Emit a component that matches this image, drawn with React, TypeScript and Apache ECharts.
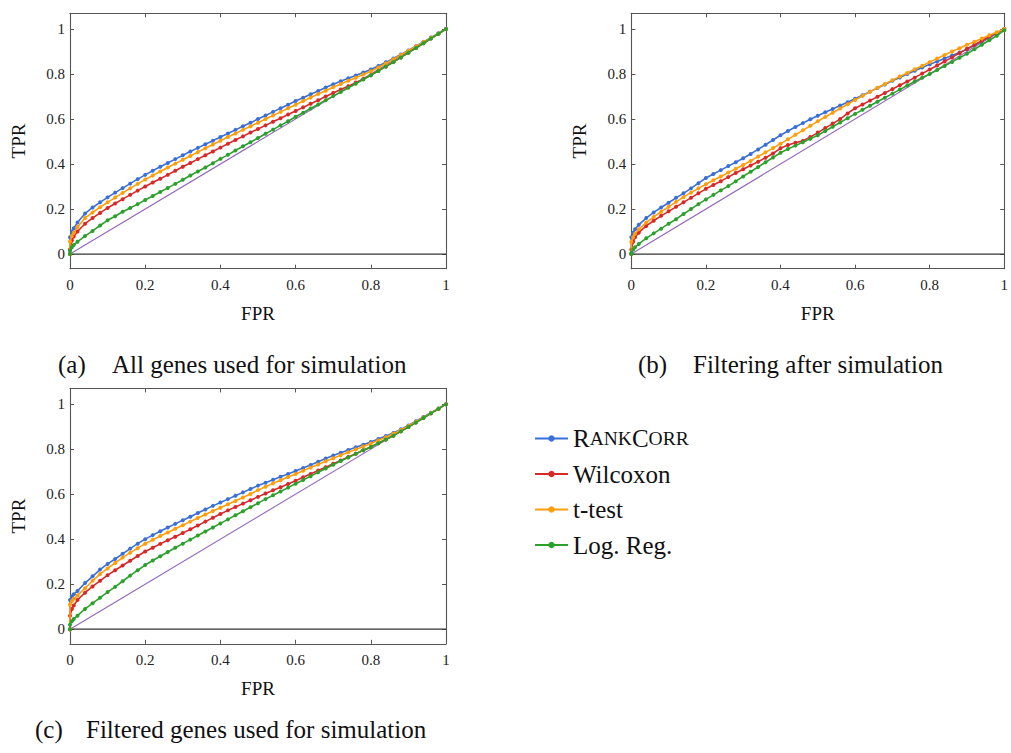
import React, { useEffect, useRef } from "react";
import * as echarts from "echarts";

// ---------- data ----------
const FPR = [
  0, 0, 0.005, 0.01,
  0.02, 0.04, 0.06, 0.08, 0.1, 0.12, 0.14, 0.16, 0.18,
  0.2, 0.22, 0.24, 0.26, 0.28, 0.3, 0.32, 0.34, 0.36, 0.38,
  0.4, 0.42, 0.44, 0.46, 0.48, 0.5, 0.52, 0.54, 0.56, 0.58,
  0.6, 0.62, 0.64, 0.66, 0.68, 0.7, 0.72, 0.74, 0.76, 0.78,
  0.8, 0.82, 0.84, 0.86, 0.88, 0.9, 0.92, 0.94, 0.96, 0.98,
  1,
];

// (a) All genes used for simulation
const RANKCORR_A = [
  0, 0.075, 0.1, 0.115,
  0.14, 0.18, 0.207, 0.23, 0.252, 0.273, 0.293, 0.313, 0.333,
  0.352, 0.37, 0.388, 0.405, 0.422, 0.439, 0.456, 0.472, 0.488, 0.504,
  0.52, 0.536, 0.552, 0.568, 0.584, 0.6, 0.616, 0.632, 0.648, 0.664,
  0.68, 0.695, 0.71, 0.725, 0.74, 0.755, 0.768, 0.781, 0.794, 0.807,
  0.82, 0.836, 0.852, 0.869, 0.887, 0.905, 0.924, 0.943, 0.962, 0.981,
  1,
];
const WILCOXON_A = [
  0, 0.02, 0.06, 0.078,
  0.1, 0.135, 0.16, 0.183, 0.205, 0.225, 0.244, 0.263, 0.282,
  0.3, 0.318, 0.335, 0.352, 0.37, 0.388, 0.405, 0.422, 0.439, 0.456,
  0.473, 0.49, 0.507, 0.523, 0.54, 0.556, 0.572, 0.588, 0.604, 0.62,
  0.636, 0.652, 0.668, 0.684, 0.7, 0.716, 0.731, 0.746, 0.762, 0.778,
  0.795, 0.814, 0.833, 0.853, 0.874, 0.895, 0.916, 0.937, 0.958, 0.979,
  1,
];
const TTEST_A = [
  0, 0.055, 0.08, 0.095,
  0.12, 0.16, 0.185, 0.208, 0.23, 0.251, 0.272, 0.292, 0.312,
  0.331, 0.349, 0.367, 0.385, 0.402, 0.419, 0.436, 0.453, 0.47, 0.487,
  0.504, 0.52, 0.536, 0.552, 0.568, 0.584, 0.6, 0.616, 0.632, 0.648,
  0.664, 0.68, 0.696, 0.711, 0.726, 0.741, 0.756, 0.77, 0.784, 0.798,
  0.812, 0.829, 0.847, 0.866, 0.885, 0.904, 0.923, 0.942, 0.961, 0.98,
  1,
];
const LOGREG_A = [
  0, 0.015, 0.03, 0.04,
  0.055, 0.08, 0.103, 0.127, 0.15, 0.168, 0.188, 0.205, 0.222,
  0.24, 0.258, 0.276, 0.294, 0.312, 0.33, 0.349, 0.367, 0.385, 0.404,
  0.423, 0.441, 0.46, 0.479, 0.497, 0.516, 0.535, 0.553, 0.572, 0.59,
  0.61, 0.628, 0.647, 0.665, 0.684, 0.702, 0.72, 0.739, 0.757, 0.776,
  0.795, 0.814, 0.833, 0.853, 0.874, 0.895, 0.916, 0.937, 0.958, 0.979,
  1,
];

// (b) Filtering after simulation
const RANKCORR_B = [
  0, 0.075, 0.095, 0.11,
  0.13, 0.16, 0.185, 0.207, 0.228, 0.25, 0.27, 0.292, 0.315,
  0.338, 0.356, 0.373, 0.391, 0.408, 0.426, 0.445, 0.465, 0.486, 0.507,
  0.528, 0.547, 0.565, 0.582, 0.599, 0.615, 0.63, 0.645, 0.66, 0.675,
  0.69, 0.706, 0.722, 0.738, 0.754, 0.77, 0.785, 0.8, 0.815, 0.829,
  0.843, 0.856, 0.869, 0.882, 0.896, 0.91, 0.928, 0.946, 0.964, 0.982,
  1,
];
const WILCOXON_B = [
  0, 0.02, 0.055, 0.075,
  0.095, 0.125, 0.148, 0.17, 0.19, 0.21, 0.23, 0.25, 0.27,
  0.29, 0.307, 0.324, 0.342, 0.36, 0.377, 0.394, 0.41, 0.428, 0.447,
  0.47, 0.485, 0.495, 0.503, 0.52, 0.54, 0.56, 0.58, 0.6, 0.625,
  0.648, 0.665, 0.682, 0.699, 0.716, 0.733, 0.75, 0.767, 0.784, 0.802,
  0.82, 0.838, 0.856, 0.874, 0.893, 0.912, 0.93, 0.948, 0.966, 0.983,
  1,
];
const TTEST_B = [
  0, 0.055, 0.075, 0.09,
  0.11, 0.14, 0.165, 0.188, 0.21, 0.232, 0.253, 0.273, 0.292,
  0.31, 0.328, 0.345, 0.362, 0.379, 0.396, 0.414, 0.433, 0.452, 0.471,
  0.49, 0.51, 0.53, 0.55, 0.57, 0.59, 0.609, 0.628, 0.647, 0.666,
  0.685, 0.703, 0.721, 0.739, 0.756, 0.773, 0.789, 0.805, 0.821, 0.837,
  0.853, 0.869, 0.885, 0.9, 0.915, 0.93, 0.944, 0.958, 0.972, 0.986,
  1,
];
const LOGREG_B = [
  0, 0.005, 0.02, 0.03,
  0.045, 0.07, 0.092, 0.113, 0.135, 0.155, 0.178, 0.2, 0.222,
  0.243, 0.263, 0.283, 0.302, 0.323, 0.345, 0.366, 0.387, 0.408, 0.429,
  0.45, 0.467, 0.482, 0.497, 0.512, 0.528, 0.547, 0.566, 0.585, 0.604,
  0.623, 0.641, 0.659, 0.677, 0.695, 0.713, 0.731, 0.749, 0.767, 0.784,
  0.8, 0.818, 0.836, 0.854, 0.872, 0.89, 0.91, 0.93, 0.95, 0.97,
  0.995,
];

// (c) Filtered genes used for simulation
const RANKCORR_C = [
  0, 0.13, 0.145, 0.155,
  0.17, 0.205, 0.235, 0.265, 0.29, 0.312, 0.335, 0.358, 0.38,
  0.4, 0.418, 0.435, 0.452, 0.468, 0.484, 0.5, 0.516, 0.532, 0.548,
  0.563, 0.578, 0.593, 0.608, 0.623, 0.638, 0.651, 0.664, 0.677, 0.69,
  0.703, 0.716, 0.73, 0.744, 0.758, 0.772, 0.784, 0.796, 0.808, 0.82,
  0.832, 0.845, 0.858, 0.872, 0.888, 0.905, 0.924, 0.943, 0.962, 0.981,
  1,
];
const WILCOXON_C = [
  0, 0.06, 0.09, 0.105,
  0.13, 0.162, 0.19, 0.215, 0.24, 0.262, 0.283, 0.304, 0.325,
  0.345, 0.362, 0.379, 0.395, 0.411, 0.427, 0.444, 0.461, 0.478, 0.495,
  0.512, 0.528, 0.543, 0.558, 0.573, 0.588, 0.603, 0.617, 0.631, 0.645,
  0.66, 0.675, 0.69, 0.705, 0.72, 0.735, 0.75, 0.765, 0.78, 0.795,
  0.81, 0.826, 0.843, 0.86, 0.879, 0.898, 0.918, 0.938, 0.959, 0.979,
  1,
];
const TTEST_C = [
  0, 0.11, 0.125, 0.135,
  0.15, 0.182, 0.215, 0.245, 0.27, 0.294, 0.318, 0.34, 0.36,
  0.38, 0.397, 0.414, 0.43, 0.446, 0.462, 0.478, 0.494, 0.51, 0.525,
  0.54, 0.555, 0.57, 0.585, 0.601, 0.618, 0.633, 0.648, 0.662, 0.676,
  0.69, 0.704, 0.718, 0.732, 0.746, 0.76, 0.773, 0.786, 0.799, 0.812,
  0.825, 0.839, 0.853, 0.868, 0.885, 0.903, 0.922, 0.941, 0.961, 0.98,
  1,
];
const LOGREG_C = [
  0, 0.02, 0.035, 0.045,
  0.06, 0.09, 0.115, 0.14, 0.165, 0.188, 0.213, 0.238, 0.262,
  0.285, 0.305, 0.324, 0.343, 0.362, 0.38, 0.398, 0.416, 0.434, 0.452,
  0.47, 0.488, 0.506, 0.524, 0.542, 0.56, 0.578, 0.595, 0.612, 0.629,
  0.646, 0.663, 0.68, 0.697, 0.714, 0.731, 0.747, 0.763, 0.779, 0.795,
  0.81, 0.826, 0.843, 0.86, 0.879, 0.898, 0.918, 0.938, 0.959, 0.979,
  1,
];

const METHODS = ["RankCorr", "Wilcoxon", "t-test", "Log. Reg."];
const PANELS = [
  [RANKCORR_A, WILCOXON_A, TTEST_A, LOGREG_A],
  [RANKCORR_B, WILCOXON_B, TTEST_B, LOGREG_B],
  [RANKCORR_C, WILCOXON_C, TTEST_C, LOGREG_C],
];
const CAPTION_TAGS = ["(a)", "(b)", "(c)"];
const CAPTIONS = [
  "All genes used for simulation",
  "Filtering after simulation",
  "Filtered genes used for simulation",
];
const TICKS = [0, 0.2, 0.4, 0.6, 0.8, 1];
const CHANCE_LINE = [
  [0, 0],
  [1, 1],
];
const ZERO_LINE = [
  [0, 0],
  [1, 0],
];
const Y_MIN = -0.065;
const Y_MAX = 1.07;

// ---------- styles ----------
const COLORS = ["#3a6fd8", "#d92828", "#ff9d0a", "#2ca02c"];
const PURPLE = "#9467bd";
const FRAME = "#555555";
const FONT = "Liberation Serif";

const GRIDS = [
  { left: 70, top: 13.3, width: 376, height: 255.4 },
  { left: 631.3, top: 13.3, width: 376, height: 255.4 },
  { left: 70, top: 388.4, width: 376, height: 255.4 },
];
const CAPTION_POS = [
  { tagX: 58, textX: 112, y: 366 },
  { tagX: 638, textX: 693, y: 366 },
  { tagX: 35, textX: 86, y: 731 },
];

function buildOption() {
  const xAxis: any[] = [];
  const yAxis: any[] = [];
  const series: any[] = [];
  const tick = {
    inside: true,
    length: 4,
    customValues: TICKS,
    lineStyle: { color: FRAME, width: 1 },
  };
  const line = { onZero: false, lineStyle: { color: FRAME, width: 1.1 } };

  GRIDS.forEach((_, i) => {
    xAxis.push({
      gridIndex: i,
      type: "value",
      min: 0,
      max: 1,
      position: "bottom",
      axisLine: line,
      axisTick: tick,
      splitLine: { show: false },
      axisLabel: {
        customValues: TICKS,
        margin: 9,
        fontFamily: FONT,
        fontSize: 15,
        color: "#222",
        formatter: (v: number) => String(v),
      },
      name: "FPR",
      nameLocation: "middle",
      nameGap: 35,
      nameTextStyle: { fontFamily: FONT, fontSize: 19, color: "#111" },
    });
    xAxis.push({
      gridIndex: i,
      type: "value",
      min: 0,
      max: 1,
      position: "top",
      axisLine: line,
      axisTick: tick,
      splitLine: { show: false },
      axisLabel: { show: false },
    });
    yAxis.push({
      gridIndex: i,
      type: "value",
      min: Y_MIN,
      max: Y_MAX,
      position: "left",
      axisLine: line,
      axisTick: tick,
      splitLine: { show: false },
      axisLabel: {
        customValues: TICKS,
        margin: 5,
        fontFamily: FONT,
        fontSize: 15,
        color: "#222",
        formatter: (v: number) => String(v),
      },
      name: "TPR",
      nameLocation: "middle",
      nameGap: 42,
      nameRotate: 90,
      nameTextStyle: { fontFamily: FONT, fontSize: 19, color: "#111" },
    });
    yAxis.push({
      gridIndex: i,
      type: "value",
      min: Y_MIN,
      max: Y_MAX,
      position: "right",
      axisLine: line,
      axisTick: tick,
      splitLine: { show: false },
      axisLabel: { show: false },
    });

    series.push({
      type: "line",
      xAxisIndex: 2 * i,
      yAxisIndex: 2 * i,
      data: ZERO_LINE,
      showSymbol: false,
      symbol: "none",
      lineStyle: { color: "#333", width: 1.3 },
      z: 1,
      silent: true,
    });
    series.push({
      type: "line",
      xAxisIndex: 2 * i,
      yAxisIndex: 2 * i,
      data: CHANCE_LINE,
      showSymbol: false,
      symbol: "none",
      lineStyle: { color: PURPLE, width: 1.1 },
      z: 2,
      silent: true,
    });
    PANELS[i].forEach((vals, m) => {
      series.push({
        name: METHODS[m],
        type: "line",
        xAxisIndex: 2 * i,
        yAxisIndex: 2 * i,
        data: FPR.map((x, k) => [x, vals[k]]),
        symbol: "circle",
        symbolSize: 4,
        showSymbol: true,
        color: COLORS[m],
        itemStyle: { color: COLORS[m] },
        lineStyle: { color: COLORS[m], width: 1.6 },
        z: 3 + m,
        silent: true,
      });
    });
  });

  const graphic: any[] = [];
  CAPTION_POS.forEach((p, i) => {
    graphic.push({
      type: "text",
      left: p.tagX,
      top: p.y - 14,
      style: {
        text: CAPTION_TAGS[i],
        fontFamily: FONT,
        fontSize: 25,
        fill: "#111",
      },
    });
    graphic.push({
      type: "text",
      left: p.textX,
      top: p.y - 14,
      style: {
        text: CAPTIONS[i],
        fontFamily: FONT,
        fontSize: 25,
        fill: "#111",
      },
    });
  });

  return {
    animation: false,
    backgroundColor: "#ffffff",
    textStyle: { fontFamily: FONT },
    grid: GRIDS.map((g) => ({ ...g, containLabel: false })),
    xAxis,
    yAxis,
    series,
    legend: {
      data: METHODS,
      orient: "vertical",
      left: 534,
      top: 426,
      padding: 0,
      itemWidth: 33,
      itemHeight: 8,
      itemGap: 10.5,
      selectedMode: false,
      formatter: (name: string) =>
        name === "RankCorr" ? "{b|R}{s|ANK}{b|C}{s|ORR}" : name,
      textStyle: {
        fontFamily: FONT,
        fontSize: 25,
        color: "#111",
        lineHeight: 24,
        rich: {
          b: { fontFamily: FONT, fontSize: 25, color: "#111", lineHeight: 24 },
          s: { fontFamily: FONT, fontSize: 19.5, color: "#111", lineHeight: 24 },
        },
      },
    },
    graphic,
  };
}

export default function App() {
  const ref = useRef<HTMLDivElement>(null);
  useEffect(() => {
    if (!ref.current) return;
    const chart = echarts.init(ref.current, undefined, { renderer: "svg" });
    chart.setOption(buildOption() as any);
    return () => chart.dispose();
  }, []);
  return (
    <div
      ref={ref}
      style={{ position: "fixed", left: 0, top: 0, width: 1011, height: 753 }}
    />
  );
}
